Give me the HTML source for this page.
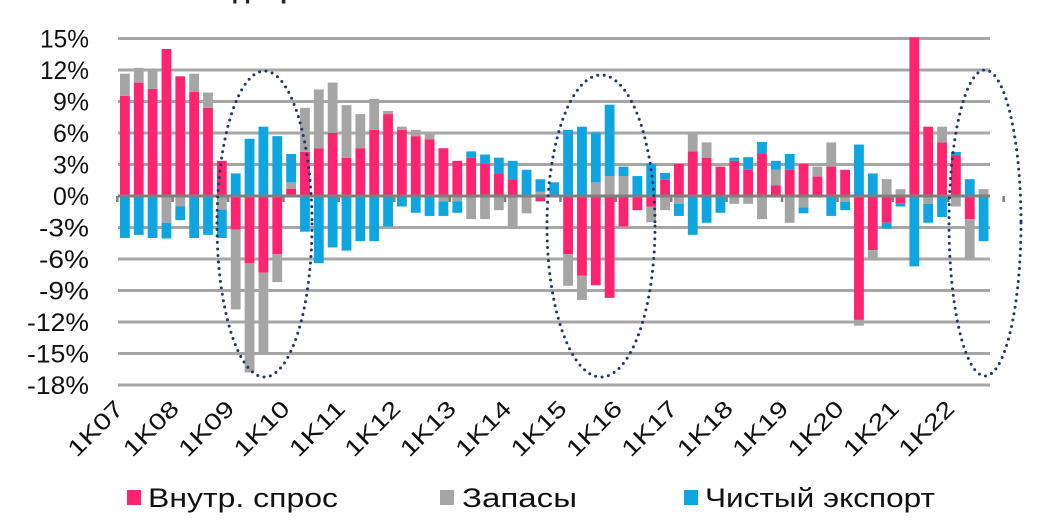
<!DOCTYPE html>
<html><head><meta charset="utf-8"><style>
body{margin:0;background:#fff;width:1048px;height:525px;overflow:hidden}
svg{display:block;font-family:"Liberation Sans",sans-serif}
</style></head><body>
<svg id="s" width="1048" height="525" xmlns="http://www.w3.org/2000/svg">
<text x="170" y="-2" font-size="26" font-weight="bold" fill="#222">Вклад в рост ВВП</text>
<g id="grid"></g><g id="bars"></g><g id="zero"></g>
<g fill="none" stroke="#1f3864" stroke-width="3" stroke-linecap="round" stroke-dasharray="0 6.5">
<ellipse cx="264.5" cy="224" rx="47.5" ry="153"/>
<ellipse cx="601" cy="226" rx="54" ry="151"/>
<ellipse cx="985" cy="223" rx="36" ry="153"/>
</g>
<g id="lab" font-size="25" fill="#111"></g>
<g id="xl" font-size="23" fill="#111"></g>
<g font-size="27" fill="#111">
<rect x="127" y="490" width="14" height="15" fill="#ff2470"/><text x="148" y="507" textLength="190" lengthAdjust="spacingAndGlyphs">Внутр. спрос</text>
<rect x="440" y="490" width="14" height="15" fill="#a5a5a5"/><text x="462" y="507" textLength="115" lengthAdjust="spacingAndGlyphs">Запасы</text>
<rect x="684" y="490" width="14" height="15" fill="#0ea5e0"/><text x="705" y="507" textLength="230" lengthAdjust="spacingAndGlyphs">Чистый экспорт</text>
</g>
</svg>
<script>
var D=[[9.55,2.1,-4.0],[10.8,1.4,-3.7],[10.2,1.9,-4.0],[14.0,-2.55,-1.5],[11.4,-1.0,-1.3],[9.9,1.75,-4.0],[8.4,1.45,-3.7],[3.35,-1.3,-2.7],[-3.2,-7.6,2.15],[-6.4,-10.4,5.45],[-7.3,-7.7,6.6],[-5.55,-2.65,5.7],[0.7,0.6,2.7],[4.2,4.2,-3.4],[4.55,5.6,-6.4],[6.0,4.8,-4.9],[3.65,5.0,-5.2],[4.55,3.25,-4.3],[6.3,2.95,-4.3],[7.8,0.3,-2.9],[6.3,0.3,-1.0],[5.7,0.6,-1.6],[5.4,0.5,-1.9],[4.55,-0.5,-1.4],[3.35,-0.5,-1.1],[3.65,-2.2,0.6],[3.05,-2.2,0.9],[2.15,-1.35,1.5],[1.6,-3.1,1.75],[0,-1.65,2.5],[-0.5,0.4,1.2],[0,0,1.3],[-5.55,-3.0,6.3],[-7.6,-2.3,6.6],[-8.5,1.3,4.75],[-9.7,1.9,6.8],[-2.9,1.9,0.9],[-1.35,0,1.9],[-1.0,-1.5,3.05],[1.55,-1.35,0.65],[3.05,-0.75,-1.15],[4.25,1.7,-3.7],[3.65,1.45,-2.55],[2.8,0,-1.6],[3.35,-0.75,0.3],[2.5,-0.75,1.2],[4.0,-2.2,1.15],[1.0,1.5,0.85],[2.5,-2.55,1.5],[3.05,-1.1,-0.55],[1.85,0.95,0],[2.8,2.3,-1.9],[2.5,-0.55,-0.8],[-11.8,-0.55,4.9],[-5.15,-0.8,2.15],[-2.55,1.6,-0.55],[-0.7,0.65,-0.3],[15.2,0,-6.7],[6.6,-0.75,-1.8],[5.1,1.5,-2.0],[3.9,-1.0,0.3],[-2.2,-3.75,1.6],[0,0.65,-4.3]];
var C=["#ff2470","#a5a5a5","#0ea5e0"],NS="http://www.w3.org/2000/svg";
function Y(v){return 196-v*10.5}
function el(g,t,a){var e=document.createElementNS(NS,t);for(var k in a)e.setAttribute(k,a[k]);document.getElementById(g).appendChild(e);return e}
for(var i=0;i<12;i++){var v=15-3*i,y=Y(v);if(v!=0)el("grid","rect",{x:118,y:y-1.5,width:872,height:3,fill:"#a6a6a6"});
var s=v+"%";var L=s.length==2?36:(s.length==3?(v<0?50:49):62);
var t=el("lab","text",{x:89-L,y:y+9,textLength:L,lengthAdjust:"spacingAndGlyphs"});t.textContent=s;}
D.forEach(function(d,i){var x=120+i*13.85,p=0,n=0;for(var j=0;j<3;j++){var v=d[j];if(!v)continue;var a,b;
if(v>0){a=p;b=Math.min(p+v,15.1);p+=v}else{a=n;b=n+v;n+=v}
var y1=Y(Math.max(a,b)),y2=Y(Math.min(a,b));el("bars","rect",{x:x,y:y1,width:9.8,height:y2-y1,fill:C[j]});}});
el("zero","rect",{x:118,y:194.5,width:872,height:3,fill:"#7f7f7f"});
for(var k=0;k<=16;k++){el("zero","rect",{x:116+k*4*13.85,y:196,width:2.5,height:6,fill:"#7f7f7f"});}
for(var yr=0;yr<16;yr++){var cx=125+yr*4*13.85,yy=410;var t=el("xl","text",{x:-68,y:0,textLength:68,lengthAdjust:"spacingAndGlyphs",transform:"translate("+cx+","+yy+") rotate(-45)"});t.textContent="1K"+(yr+7<10?"0":"")+(yr+7);}
</script>
</body></html>
